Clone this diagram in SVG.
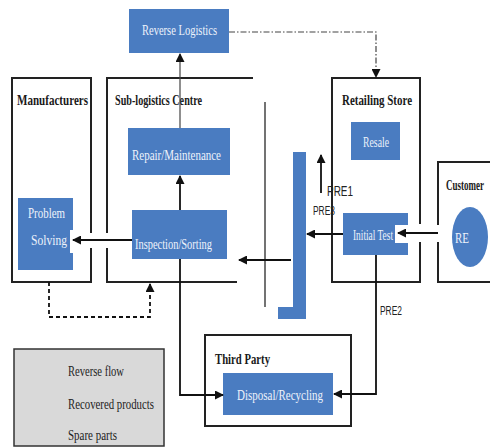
<svg xmlns="http://www.w3.org/2000/svg" width="490" height="447" viewBox="0 0 490 447">
  <defs>
    <marker id="arrow" markerUnits="userSpaceOnUse" markerWidth="9" markerHeight="9" refX="8" refY="4.5" orient="auto">
      <path d="M0,0 L9,4.5 L0,9 z" fill="#111"/>
    </marker>
    <style>
      .frame { fill: none; stroke: #222; stroke-width: 2; }
      .blue { fill: #4a7cc1; }
      .btxt { font-family: "Liberation Serif", "DejaVu Serif", serif; font-size: 14.5px; fill: #eef3fb; }
      .head { font-family: "Liberation Serif", "DejaVu Serif", serif; font-size: 15.5px; font-weight: bold; fill: #1a1a1a; }
      .lbl { font-family: "Liberation Sans", "DejaVu Sans", sans-serif; fill: #222; }
      .leg { font-family: "Liberation Serif", "DejaVu Serif", serif; font-size: 14.5px; fill: #222; }
      .flow { fill: none; stroke: #111; stroke-width: 1.8; }
      .thin { fill: none; stroke: #444; stroke-width: 1.2; }
    </style>
  </defs>

  <rect width="490" height="447" fill="#ffffff"/>

  <!-- container frames -->
  <g id="manufacturers">
    <path class="frame" d="M91,233 V78 H12 V282 H91 V248"/>
    <text class="head" x="17" y="105" textLength="71" lengthAdjust="spacingAndGlyphs">Manufacturers</text>
  </g>
  <g id="sub-logistics-centre">
    <path class="frame" d="M253,78 H107 V233 M107,248 V282 H237"/>
    <text class="head" x="115" y="105" textLength="87" lengthAdjust="spacingAndGlyphs">Sub-logistics Centre</text>
  </g>
  <g id="retailing-store">
    <path class="frame" d="M420,224 V78 H332 V282 H420 V242"/>
    <text class="head" x="342" y="105" textLength="70" lengthAdjust="spacingAndGlyphs">Retailing Store</text>
  </g>
  <g id="customer">
    <path class="frame" d="M490,162 H438 V225 M438,242 V282 H490"/>
    <text class="head" transform="translate(446,190) scale(0.58,1)">Customer</text>
  </g>
  <g id="third-party">
    <rect class="frame" x="205" y="335" width="146" height="91"/>
    <text class="head" x="215" y="364" textLength="55" lengthAdjust="spacingAndGlyphs">Third Party</text>
  </g>

  <!-- divider line -->
  <line x1="265" y1="102" x2="265" y2="307" stroke="#444" stroke-width="1.5"/>

  <!-- process nodes -->
  <g id="reverse-logistics">
    <rect class="blue" x="129" y="9" width="100" height="44"/>
    <text class="btxt" x="142" y="35" textLength="75" lengthAdjust="spacingAndGlyphs">Reverse Logistics</text>
  </g>
  <g id="resale">
    <rect class="blue" x="351" y="122" width="49" height="38"/>
    <text class="btxt" x="363" y="147" textLength="26" lengthAdjust="spacingAndGlyphs">Resale</text>
  </g>
  <g id="repair-maintenance">
    <rect class="blue" x="128" y="128" width="102" height="47"/>
    <text class="btxt" x="132" y="160" textLength="89" lengthAdjust="spacingAndGlyphs">Repair/Maintenance</text>
  </g>
  <g id="inspection-sorting">
    <rect class="blue" x="132" y="210" width="95" height="49"/>
    <text class="btxt" x="135" y="249" textLength="77" lengthAdjust="spacingAndGlyphs">Inspection/Sorting</text>
  </g>
  <g id="problem-solving">
    <path class="blue" d="M18,198 H73 V230 H70 V253 H73 V270 H18 Z"/>
    <text class="btxt" x="28" y="218" textLength="37" lengthAdjust="spacingAndGlyphs">Problem</text>
    <text class="btxt" x="31" y="245" textLength="36" lengthAdjust="spacingAndGlyphs">Solving</text>
  </g>
  <g id="initial-test">
    <path class="blue" d="M343,213 H408 V225 H395 V243 H408 V255 H343 Z"/>
    <text class="btxt" x="353" y="240" font-size="11" textLength="40" lengthAdjust="spacingAndGlyphs">Initial Test</text>
  </g>
  <g id="return-bar">
    <path class="blue" d="M293,152 H306 V319 H278 V307 H293 Z"/>
  </g>
  <g id="re">
    <ellipse class="blue" cx="470" cy="237" rx="18" ry="30"/>
    <text class="btxt" x="455" y="243" textLength="14" lengthAdjust="spacingAndGlyphs">RE</text>
  </g>
  <g id="disposal-recycling">
    <rect class="blue" x="223" y="373" width="110" height="42"/>
    <text class="btxt" x="237" y="400" textLength="86" lengthAdjust="spacingAndGlyphs">Disposal/Recycling</text>
  </g>

  <!-- connectors -->
  <g id="connectors">
    <line class="thin" x1="180" y1="128" x2="180" y2="54" marker-end="url(#arrow)"/>
    <path class="thin" d="M229,32 H376 V77" stroke-dasharray="6,2,1.5,2" marker-end="url(#arrow)"/>
    <line class="flow" x1="132" y1="240" x2="73" y2="240" marker-end="url(#arrow)"/>
    <line class="flow" x1="180" y1="210" x2="180" y2="176" marker-end="url(#arrow)"/>
    <line class="flow" x1="438" y1="233" x2="398" y2="233" marker-end="url(#arrow)"/>
    <line class="flow" x1="343" y1="234" x2="307" y2="234" marker-end="url(#arrow)"/>
    <line class="flow" x1="291" y1="260" x2="239" y2="260" marker-end="url(#arrow)"/>
    <line class="flow" x1="321" y1="193" x2="321" y2="155" marker-end="url(#arrow)"/>
    <path class="flow" d="M180,259 V395 H223" marker-end="url(#arrow)"/>
    <path class="flow" d="M376,255 V394 H334" marker-end="url(#arrow)"/>
    <path class="flow" d="M49,282 V317 H150 V284" stroke-dasharray="4,3" marker-end="url(#arrow)"/>
    <text class="lbl" x="327" y="196" font-size="15" textLength="26" lengthAdjust="spacingAndGlyphs">PRE1</text>
    <text class="lbl" x="313" y="215" font-size="12" textLength="22" lengthAdjust="spacingAndGlyphs">PRE3</text>
    <text class="lbl" x="380" y="315" font-size="12" textLength="22" lengthAdjust="spacingAndGlyphs">PRE2</text>
  </g>

  <!-- legend -->
  <g id="legend">
    <rect x="14" y="349" width="150" height="97" fill="#d9d9d9" stroke="#333" stroke-width="1.5"/>
    <text class="leg" x="68" y="376" textLength="56" lengthAdjust="spacingAndGlyphs">Reverse flow</text>
    <text class="leg" x="68" y="409" textLength="86" lengthAdjust="spacingAndGlyphs">Recovered products</text>
    <text class="leg" x="68" y="440" textLength="49" lengthAdjust="spacingAndGlyphs">Spare parts</text>
  </g>
</svg>
